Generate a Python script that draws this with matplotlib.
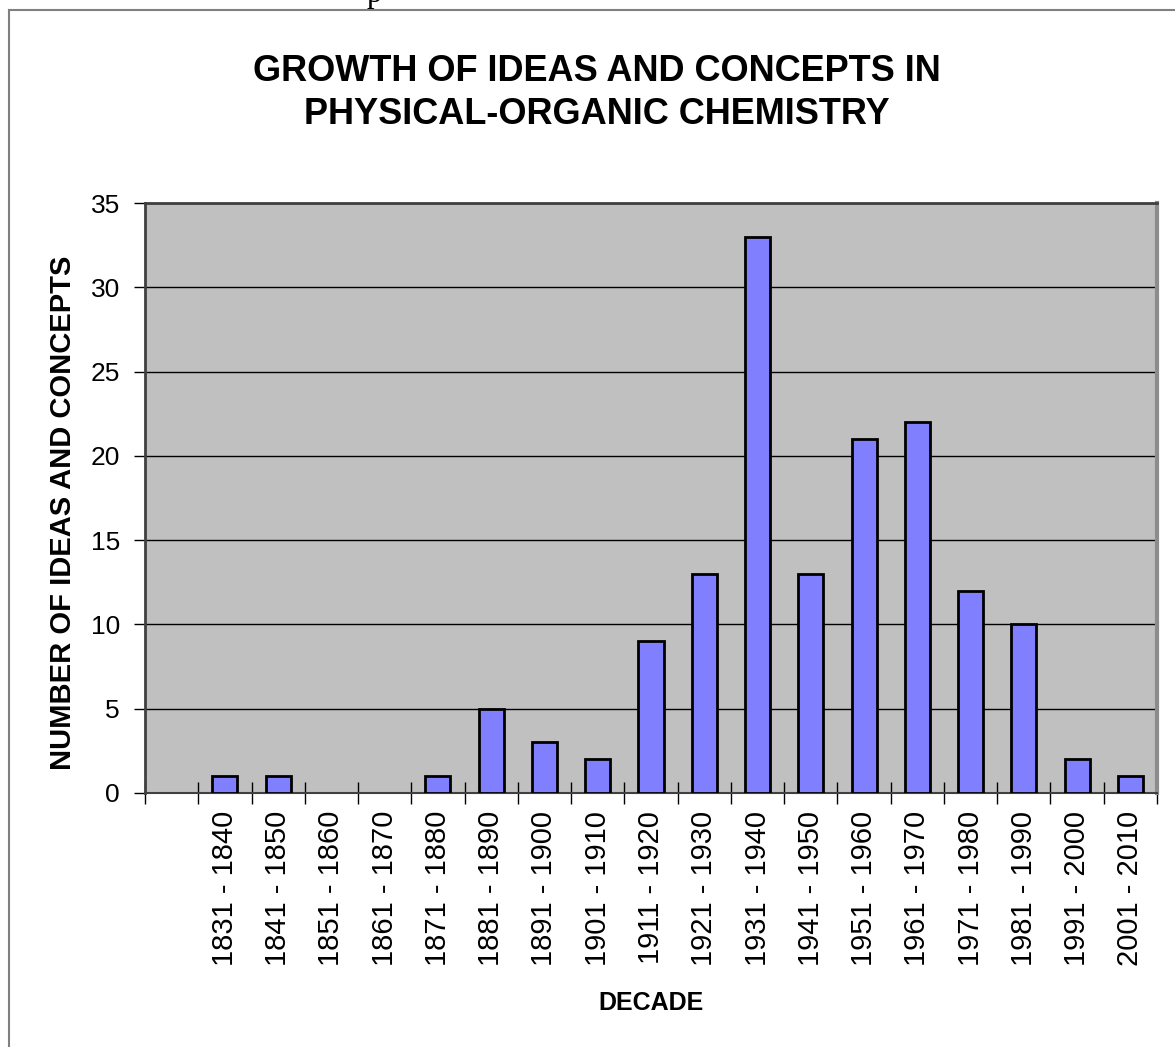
import matplotlib.pyplot as plt
from matplotlib.lines import Line2D

plt.rcParams['font.family'] = ['Liberation Sans', 'DejaVu Sans']

# decade bins (first slot is an empty category, as in the original sheet)
decades = ['', '1831 - 1840', '1841 - 1850', '1851 - 1860', '1861 - 1870',
           '1871 - 1880', '1881 - 1890', '1891 - 1900', '1901 - 1910',
           '1911 - 1920', '1921 - 1930', '1931 - 1940', '1941 - 1950',
           '1951 - 1960', '1961 - 1970', '1971 - 1980', '1981 - 1990',
           '1991 - 2000', '2001 - 2010']
counts = [0, 1, 1, 0, 0, 1, 5, 3, 2, 9, 13, 33, 13, 21, 22, 12, 10, 2, 1]
y_ticks = [0, 5, 10, 15, 20, 25, 30, 35]

fig = plt.figure(figsize=(11.75, 10.47), dpi=100)
ax = fig.add_axes([0.1234, 0.2426, 0.8613, 0.5635])

x = list(range(len(decades)))
ax.set_facecolor('#C0C0C0')
edges = ['black' if c > 0 else 'none' for c in counts]
ax.bar(x, counts, width=0.47, color='#8080FF', edgecolor=edges,
       linewidth=2, zorder=3)

ax.set_xlim(-0.5, len(decades) - 0.5)
ax.set_ylim(0, 35)
ax.set_yticks(y_ticks)
ax.set_yticklabels([str(v) for v in y_ticks])
ax.tick_params(axis='y', length=8, width=1, pad=10, labelsize=19)
ax.yaxis.grid(True, color='black', linewidth=1, zorder=1)

ax.set_xticks(x)
ax.set_xticklabels(decades, rotation=90)
ax.tick_params(axis='x', length=0, pad=13, labelsize=21)
ax.set_xticks([i - 0.5 for i in range(len(decades) + 1)], minor=True)
ax.tick_params(axis='x', which='minor', direction='inout', length=16, width=1)

for side in ['left', 'top']:
    ax.spines[side].set_color('#404040')
    ax.spines[side].set_linewidth(2)
ax.spines['right'].set_color('#8C8C8C')
ax.spines['right'].set_linewidth(3)
ax.spines['bottom'].set_color('#404040')
ax.spines['bottom'].set_linewidth(1.5)

ax.set_xlabel('DECADE', fontsize=18, fontweight='bold', labelpad=18)
ax.set_ylabel('NUMBER OF IDEAS AND CONCEPTS', fontsize=21, fontweight='bold')
ax.yaxis.set_label_coords(-0.067, 0.475)

fig.text(0.508, 0.911, 'GROWTH OF IDEAS AND CONCEPTS IN\nPHYSICAL-ORGANIC CHEMISTRY',
         ha='center', va='center', fontsize=26, fontweight='bold',
         linespacing=1.3)

# outer chart frame, cut off at the right and bottom
fig.add_artist(Line2D([9 / 1175, 9 / 1175], [0, 1 - 10 / 1047],
                      transform=fig.transFigure, color='#808080', linewidth=1.5))
fig.add_artist(Line2D([9 / 1175, 1], [1 - 10 / 1047, 1 - 10 / 1047],
                      transform=fig.transFigure, color='#808080', linewidth=1.5))

# descender of a letter from the text above the chart (cut off in the source too)
fig.text(0.318, 1 - 2 / 1047, 'p', family='Liberation Serif', fontsize=22,
         va='baseline', ha='center')

fig.savefig('out.png', dpi=100)
